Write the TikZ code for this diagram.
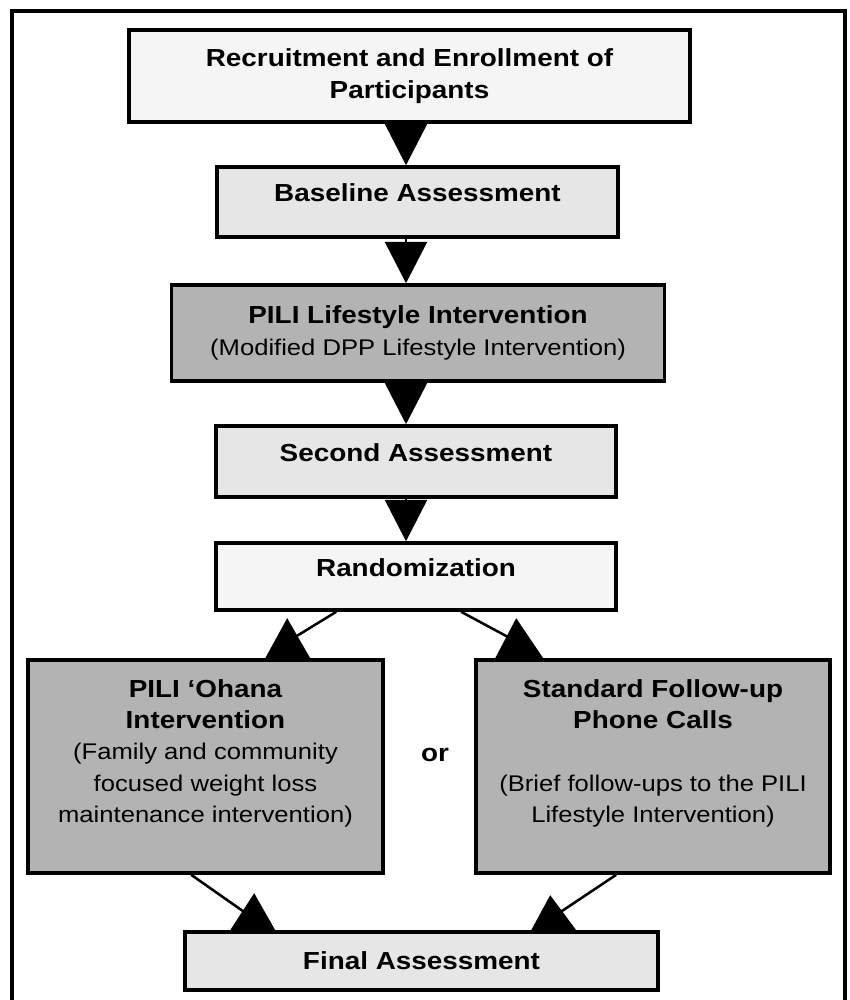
\documentclass[tikz,border=0pt]{standalone}
\usepackage{fontspec}
\setmainfont{Liberation Sans}[FakeStretch=1.13]
\usetikzlibrary{arrows.meta,calc}
\definecolor{boxlight}{HTML}{F5F5F5}
\definecolor{boxmid}{HTML}{E6E6E6}
\definecolor{boxdark}{HTML}{B3B3B3}
\newcommand\plainnote{\mdseries\fontsize{17}{23.5}\selectfont}
\tikzset{
  box/.style={draw=black, line width=2.7pt, rectangle, align=center, inner sep=0pt,
              font=\bfseries\fontsize{18.5}{23.5}\selectfont},
  arr/.style={line width=1.8pt, -{Triangle[width=31.5pt,length=31pt]}},
  conn/.style={line width=1.9pt},
  tri/.style={fill=black},
  frame/.style={line width=2.4pt}
}
\begin{document}
\begin{tikzpicture}[x=0.75pt,y=-0.75pt]
\useasboundingbox (0,0) rectangle (850,1000);
\draw[frame] (12,1003) -- (12,11) -- (845,11) -- (845,1003);

\node[box, fill=boxlight, minimum width=420.75pt, minimum height=69pt] (rec) at (409.5,76)
  {Recruitment and Enrollment of\\Participants};
\node[box, fill=boxmid, minimum width=300.75pt, minimum height=52.5pt, text depth=13.5pt] (bas) at (417.5,202)
  {Baseline Assessment};
\node[box, fill=boxdark, minimum width=369.75pt, minimum height=72pt] (pili) at (418,333)
  {PILI Lifestyle Intervention\\{\plainnote (Modified DPP Lifestyle Intervention)}};
\node[box, fill=boxmid, minimum width=300pt, minimum height=53.25pt, text depth=14pt] (sec) at (416,461.5)
  {Second Assessment};
\node[box, fill=boxlight, minimum width=300pt, minimum height=50.25pt, text depth=13pt] (ran) at (416,576.5)
  {Randomization};
\node[box, fill=boxdark, minimum width=266.25pt, minimum height=159.75pt] (oha) at (205.5,766.5)
  {PILI ‘Ohana\\Intervention\\{\plainnote (Family and community}\\{\plainnote focused weight loss}\\{\plainnote maintenance intervention)}\\\mbox{}};
\node[box, fill=boxdark, minimum width=265.5pt, minimum height=159.75pt] (sta) at (653,766.5)
  {Standard Follow-up\\Phone Calls\\\mbox{}\\{\plainnote (Brief follow-ups to the PILI}\\{\plainnote Lifestyle Intervention)}\\\mbox{}};
\node[box, fill=boxmid, minimum width=354.75pt, minimum height=43.5pt] (fin) at (421.5,961)
  {Final Assessment};
\node[font=\bfseries\fontsize{18.5}{22}\selectfont] (or) at (435,755) {or};

\coordinate (ax) at (406,0);
\draw[arr] (rec.south -| ax) -- (bas.north -| ax);
\draw[arr] (bas.south -| ax) -- (pili.north -| ax);
\draw[arr] (pili.south -| ax) -- (sec.north -| ax);
\draw[arr] (sec.south -| ax) -- (ran.north -| ax);

\draw[conn] ($(ran.south west)+(122,0)$) -- ($(oha.north west)+(267,-20)$);
\fill[tri] ($(oha.north west)+(239,0)$) -- ($(oha.north west)+(284,0)$) -- ($(oha.north west)+(261,-40)$) -- cycle;
\draw[conn] ($(ran.south west)+(247,0)$) -- ($(sta.north west)+(36,-20)$);
\fill[tri] ($(sta.north west)+(21,0)$) -- ($(sta.north west)+(69,0)$) -- ($(sta.north west)+(42,-40)$) -- cycle;
\draw[conn] ($(oha.south west)+(165,0)$) -- ($(fin.north west)+(67,-14)$);
\fill[tri] ($(fin.north west)+(47,0)$) -- ($(fin.north west)+(92,0)$) -- ($(fin.north west)+(71,-37)$) -- cycle;
\draw[conn] ($(sta.south west)+(142,0)$) -- ($(fin.north west)+(371,-14)$);
\fill[tri] ($(fin.north west)+(348,0)$) -- ($(fin.north west)+(393,0)$) -- ($(fin.north west)+(367,-35)$) -- cycle;
\end{tikzpicture}
\end{document}
